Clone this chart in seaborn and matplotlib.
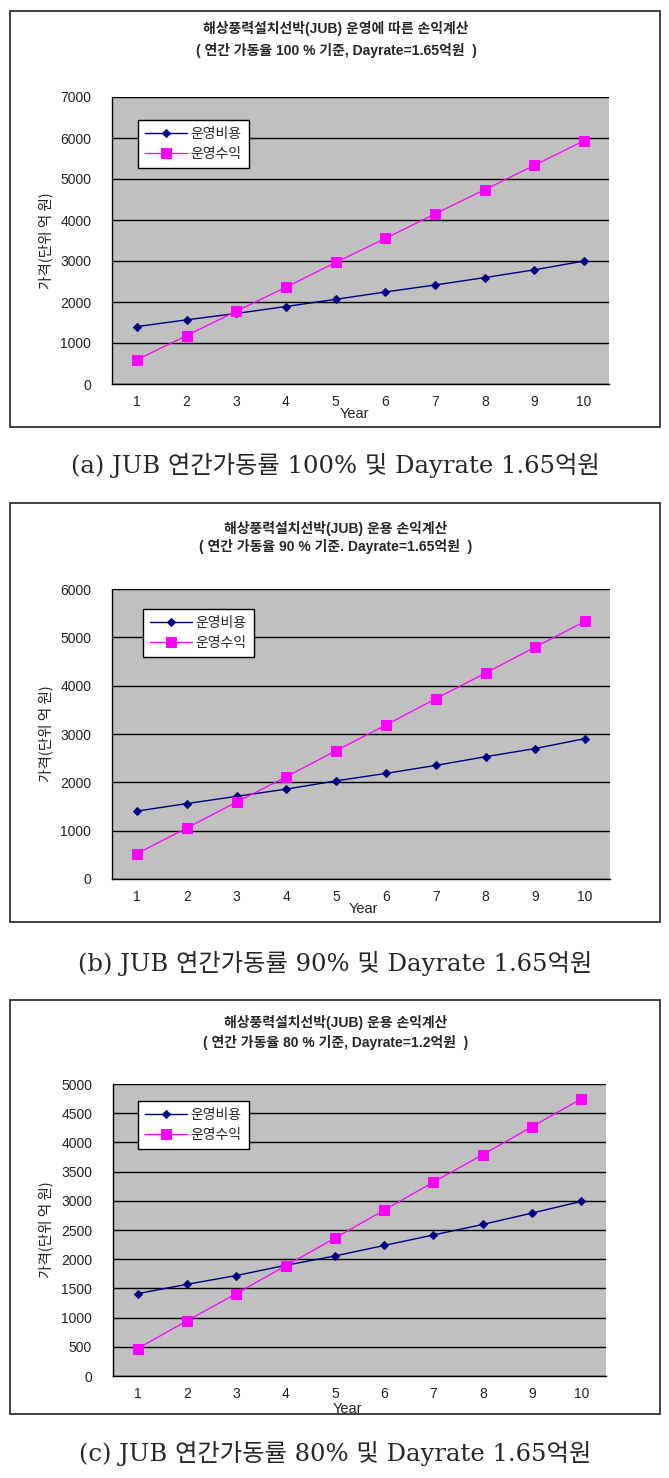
import matplotlib
matplotlib.use("Agg")
import matplotlib.pyplot as plt
from matplotlib.patches import Rectangle
from matplotlib.ticker import MultipleLocator, FixedLocator
import seaborn as sns
import pandas as pd
import numpy as np

sns.set_theme(style="white")
plt.rcParams['font.family'] = ['Liberation Sans', 'Noto Sans CJK KR']

years = [1, 2, 3, 4, 5, 6, 7, 8, 9, 10]

cost_a = [1400, 1565, 1720, 1890, 2065, 2245, 2415, 2595, 2785, 3000]
rev_a = [590, 1180, 1775, 2360, 2965, 3550, 4150, 4740, 5335, 5935]

cost_b = [1405, 1560, 1710, 1860, 2030, 2185, 2350, 2530, 2700, 2905]
rev_b = [525, 1055, 1590, 2115, 2655, 3185, 3730, 4260, 4800, 5330]

cost_c = [1410, 1570, 1720, 1895, 2055, 2235, 2415, 2595, 2790, 2990]
rev_c = [470, 945, 1410, 1885, 2360, 2840, 3320, 3790, 4270, 4745]

series_names = ['운영비용', '운영수익']

titles1 = ['해상풍력설치선박(JUB) 운영에 따른 손익계산',
           '해상풍력설치선박(JUB) 운용 손익계산',
           '해상풍력설치선박(JUB) 운용 손익계산']
titles2 = ['( 연간 가동율 100 % 기준, Dayrate=1.65억원  )',
           '( 연간 가동율 90 % 기준. Dayrate=1.65억원  )',
           '( 연간 가동율 80 % 기준, Dayrate=1.2억원  )']
captions = ['(a) JUB 연간가동률 100% 및 Dayrate 1.65억원',
            '(b) JUB 연간가동률 90% 및 Dayrate 1.65억원',
            '(c) JUB 연간가동률 80% 및 Dayrate 1.65억원']
ylabel = '가격(단위 억 원)'
xlabel = 'Year'
ymax = [7000, 6000, 5000]
ystep = [1000, 1000, 500]

W, H = 669, 1478
fig = plt.figure(figsize=(W / 100, H / 100), dpi=100)
fig.patch.set_facecolor('white')

def fx(px):
    return px / W

def fy(py):
    return 1 - py / H

# layout in pixels
boxes = [(10, 11, 660, 427), (10, 503, 660, 922), (10, 1000, 660, 1414)]
axes_px = [(112, 97, 609, 384), (112, 589, 610, 879), (113, 1084, 606, 1376)]
title_y = [(29, 51), (528, 547), (1023, 1042)]
caption_y = [465, 963, 1453]
legend_px = [(138, 120), (143, 609), (138, 1101)]
year_x = [354, 363, 347]
year_dy = [30, 30, 33]

data = [(cost_a, rev_a), (cost_b, rev_b), (cost_c, rev_c)]

for i in range(3):
    bx0, by0, bx1, by1 = boxes[i]
    fig.patches.append(Rectangle((fx(bx0), fy(by1)), fx(bx1 - bx0), (by1 - by0) / H,
                                 transform=fig.transFigure, fill=False,
                                 edgecolor='#333333', linewidth=1.3, zorder=0))
    fig.text(fx(336), fy(title_y[i][0]), titles1[i], ha='center', va='center',
             fontsize=10, fontweight='bold', family=['Liberation Sans', 'Noto Sans CJK KR'])
    fig.text(fx(336), fy(title_y[i][1]), titles2[i], ha='center', va='center',
             fontsize=10, fontweight='bold', family=['Liberation Sans', 'Noto Sans CJK KR'])
    fig.text(fx(335), fy(caption_y[i]), captions[i], ha='center', va='center',
             fontsize=17.5, family=['DejaVu Serif', 'Noto Sans CJK KR'])

    ax0, ay0, ax1, ay1 = axes_px[i]
    ax = fig.add_axes([fx(ax0), fy(ay1), fx(ax1 - ax0), (ay1 - ay0) / H])
    ax.set_facecolor('#c0c0c0')

    cost, rev = data[i]
    df_cost = pd.DataFrame({'Year': years, 'value': cost})
    df_rev = pd.DataFrame({'Year': years, 'value': rev})
    sns.lineplot(data=df_cost, x='Year', y='value', ax=ax, color='#000080',
                 marker='D', markersize=4.5, markeredgecolor='#000080',
                 linewidth=1.0, label=series_names[0], zorder=3)
    sns.lineplot(data=df_rev, x='Year', y='value', ax=ax, color='#ff00ff',
                 marker='s', markersize=7, markeredgecolor='#ff00ff',
                 linewidth=0.9, label=series_names[1], zorder=3)

    ax.set_xlim(0.5, 10.5)
    ax.set_ylim(0, ymax[i])
    ax.yaxis.set_major_locator(MultipleLocator(ystep[i]))
    ax.xaxis.set_major_locator(FixedLocator(years))
    ax.xaxis.set_minor_locator(FixedLocator(np.arange(0.5, 11, 1.0)))
    ax.grid(axis='y', color='black', linewidth=1.0)
    ax.set_axisbelow(True)
    for s in ['top', 'right']:
        ax.spines[s].set_visible(False)
    for s in ['left', 'bottom']:
        ax.spines[s].set_color('black')
        ax.spines[s].set_linewidth(1.0)
    ax.tick_params(axis='x', which='major', length=0, pad=8, labelsize=10, labelcolor='#222222')
    ax.tick_params(axis='x', which='minor', length=3, direction='in', color='black', width=0.8)
    ax.tick_params(axis='y', which='major', length=0, pad=15, labelsize=10, labelcolor='#222222')

    ax.set_ylabel(ylabel, fontsize=10.5, family=['Noto Sans CJK KR'], color='#222222')
    ax.yaxis.set_label_coords((53 - ax0) / (ax1 - ax0), 0.5)
    ax.set_xlabel(xlabel, fontsize=10.5, color='#222222')
    ax.xaxis.set_label_coords((year_x[i] - ax0) / (ax1 - ax0), -(year_dy[i] / (ay1 - ay0)))
    ax.xaxis.label.set_va('center')

    lx, ly = legend_px[i]
    leg = ax.legend(loc='upper left',
                    bbox_to_anchor=((lx - ax0) / (ax1 - ax0), (ay1 - ly) / (ay1 - ay0)),
                    frameon=True, fancybox=False, shadow=False,
                    prop={'family': ['Noto Sans CJK KR'], 'size': 10},
                    handlelength=3.0, borderpad=0.5, labelspacing=0.45,
                    borderaxespad=0, handletextpad=0.3)
    leg.get_frame().set_edgecolor('black')
    leg.get_frame().set_linewidth(1.0)
    leg.get_frame().set_facecolor('white')
    leg.get_frame().set_alpha(1)

fig.savefig('out.png', dpi=100, facecolor='white')
